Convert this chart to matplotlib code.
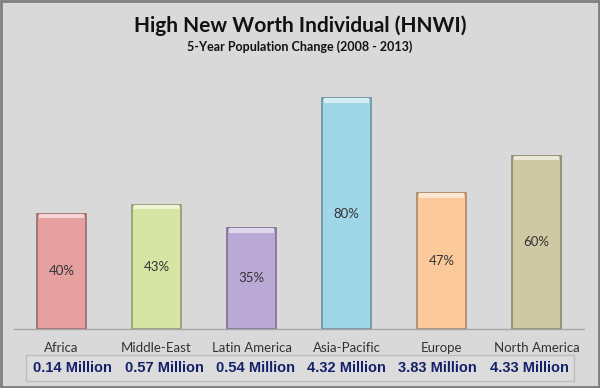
import matplotlib
matplotlib.use("Agg")
import matplotlib.pyplot as plt
from matplotlib.patches import Rectangle
import matplotlib.colors as mcolors

categories = ["Africa", "Middle-East", "Latin America", "Asia-Pacific", "Europe", "North America"]
change_pct = [40, 43, 35, 80, 47, 60]
population = ["0.14 Million", "0.57 Million", "0.54 Million", "4.32 Million", "3.83 Million", "4.33 Million"]
bar_colors = ["#e6a09f", "#d6e4a4", "#bba9d5", "#9fd7e9", "#fcc99b", "#cfc9a3"]

title = "High New Worth Individual (HNWI)"
subtitle = "5-Year Population Change (2008 - 2013)"

BG = "#d9d9d9"
fig = plt.figure(figsize=(6.0, 3.88), dpi=100, facecolor=BG)

# outer border
fig.patches.append(Rectangle((0.0015, 0.0025), 0.997, 0.995, transform=fig.transFigure,
                             fill=False, edgecolor="#7f7f7f", linewidth=2.0))

ax = fig.add_axes([14/600, 59/388, 570/600, 245.4/388])
ax.set_facecolor(BG)
x = list(range(len(categories)))

def darker(c, f=0.62):
    r, g, b = mcolors.to_rgb(c)
    return (r*f, g*f, b*f)

def lighter(c, f=0.55):
    r, g, b = mcolors.to_rgb(c)
    return (r + (1-r)*f, g + (1-g)*f, b + (1-b)*f)

bars = ax.bar(x, change_pct, width=0.526, color=bar_colors,
              edgecolor=[darker(c, 0.7) for c in bar_colors], linewidth=1.3, zorder=2)
# top bevel highlight
ax.bar(x, [1.6]*len(x), bottom=[v - 1.6 for v in change_pct], width=0.47,
       color=[lighter(c) for c in bar_colors], linewidth=0, zorder=3)

for xi, v in zip(x, change_pct):
    ax.text(xi, v/2, f"{v}%", ha="center", va="center", fontsize=9.5,
            family="Lato", color="#333333", zorder=4)

ax.set_xlim(-0.5, 5.5)
ax.set_ylim(0, 85)
for s in ["top", "right", "left"]:
    ax.spines[s].set_visible(False)
ax.spines["bottom"].set_color("#a6a6a6")
ax.spines["bottom"].set_linewidth(1.0)
ax.set_yticks([])
ax.set_xticks(x)
ax.set_xticklabels(categories, fontsize=9.5, family="Lato", color="#333333")
ax.tick_params(axis="x", length=0, pad=9)

# title
fig.text(0.5, 1 - 26/388, title, ha="center", va="center", fontsize=15,
         fontweight="bold", family="Lato", color="#111111")
fig.text(0.5, 1 - 47/388, subtitle, ha="center", va="center", fontsize=9,
         fontweight="bold", family="Lato", color="#111111")

# population box
fig.patches.append(Rectangle((26/600, 1 - 381/388), (574-26)/600, (381-355)/388,
                             transform=fig.transFigure, facecolor="#dcdcdc",
                             edgecolor="#bdbdbd", linewidth=1.0))
pop_x = [72, 164, 255, 346, 437, 529]
for px, label in zip(pop_x, population):
    fig.text(px/600, 1 - 368/388, label, ha="center", va="center", fontsize=10.5,
             fontweight="bold", family="Liberation Sans", color="#14216a")

fig.savefig("out.png", dpi=100, facecolor=BG)
